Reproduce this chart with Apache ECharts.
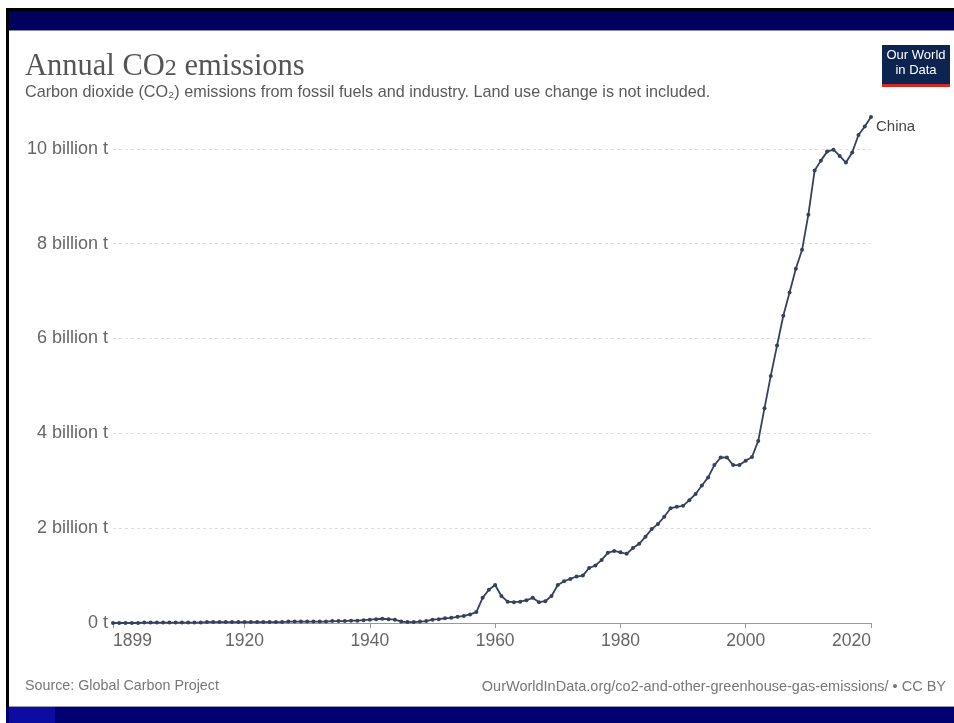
<!DOCTYPE html>
<html>
<head>
<meta charset="utf-8">
<script src="https://cdn.jsdelivr.net/npm/echarts@6/dist/echarts.min.js"></script>
<style>
html,body{margin:0;padding:0;background:#fff;}
#chart{width:954px;height:723px;}
</style>
</head>
<body>
<div id="chart"></div>
<script>
// Years and China annual CO2 emissions (billion tonnes)
const years = [];
for (let y = 1899; y <= 2020; y++) years.push(y);
const china = [
  // 1899-1909
  0.00, 0.00, 0.00, 0.00, 0.00, 0.01, 0.01, 0.01, 0.01, 0.01, 0.01,
  // 1910-1919
  0.01, 0.01, 0.01, 0.01, 0.02, 0.02, 0.02, 0.02, 0.02, 0.02,
  // 1920-1929
  0.02, 0.02, 0.02, 0.02, 0.02, 0.02, 0.02, 0.03, 0.03, 0.03,
  // 1930-1939
  0.03, 0.03, 0.03, 0.03, 0.04, 0.04, 0.04, 0.05, 0.05, 0.06,
  // 1940-1949
  0.07, 0.08, 0.09, 0.08, 0.07, 0.03, 0.02, 0.02, 0.03, 0.04,
  // 1950-1959
  0.07, 0.08, 0.10, 0.11, 0.13, 0.15, 0.18, 0.23, 0.53, 0.70,
  // 1960-1969
  0.80, 0.57, 0.45, 0.44, 0.45, 0.48, 0.53, 0.44, 0.46, 0.57,
  // 1970-1979
  0.80, 0.88, 0.93, 0.98, 1.00, 1.16, 1.21, 1.33, 1.48, 1.52,
  // 1980-1989
  1.49, 1.46, 1.58, 1.67, 1.82, 1.98, 2.09, 2.24, 2.42, 2.45,
  // 1990-1999
  2.47, 2.59, 2.72, 2.90, 3.07, 3.33, 3.49, 3.49, 3.33, 3.33,
  // 2000-2009
  3.42, 3.50, 3.84, 4.53, 5.21, 5.85, 6.48, 6.97, 7.47, 7.87,
  // 2010-2020
  8.61, 9.54, 9.75, 9.94, 9.98, 9.85, 9.71, 9.92, 10.29, 10.47, 10.67
];
const xTicks = [1899, 1920, 1940, 1960, 1980, 2000, 2020];
const yTicks = [0, 2, 4, 6, 8, 10];
const seriesName = 'China';
const titleMain = 'Annual CO';
const titleSub = 'Carbon dioxide (CO₂) emissions from fossil fuels and industry. Land use change is not included.';
const sourceText = 'Source: Global Carbon Project';
const urlText = 'OurWorldInData.org/co2-and-other-greenhouse-gas-emissions/ • CC BY';

const data = years.map((y, i) => [y, china[i]]);
const lineColor = '#37415e';
const sans = 'Liberation Sans, Arial, sans-serif';
const serif = 'Liberation Serif, Times New Roman, serif';

const chart = echarts.init(document.getElementById('chart'), null, {renderer: 'canvas'});
chart.setOption({
  backgroundColor: '#fff',
  animation: false,
  grid: {left: 113, right: 83, top: 117, bottom: 100},
  xAxis: {
    type: 'value',
    min: years[0],
    max: years[years.length - 1],
    axisLine: {show: true, lineStyle: {color: '#999', width: 1}},
    axisTick: {show: true, length: 5, lineStyle: {color: '#999'}, customValues: xTicks},
    axisLabel: {
      customValues: xTicks,
      color: '#666', fontSize: 17.5, fontFamily: sans,
      margin: 9, alignMinLabel: 'left', alignMaxLabel: 'right',
      formatter: v => String(v)
    },
    splitLine: {show: false}
  },
  yAxis: {
    type: 'value',
    min: 0,
    max: v => v.max,
    axisLine: {show: false},
    axisTick: {show: false},
    axisLabel: {
      customValues: yTicks,
      color: '#666', fontSize: 18, fontFamily: sans,
      margin: 5,
      formatter: v => v === 0 ? '0 t' : v + ' billion t'
    },
    splitLine: {show: true, showMaxLine: false, lineStyle: {color: '#ddd', type: [3, 3], width: 1}},
    interval: 2
  },
  series: [{
    name: seriesName,
    type: 'line',
    data: data,
    symbol: 'circle',
    symbolSize: 4,
    showSymbol: true,
    lineStyle: {color: lineColor, width: 1.8},
    itemStyle: {color: lineColor},
    endLabel: {
      show: true,
      formatter: seriesName,
      color: '#444',
      fontSize: 15,
      fontFamily: sans,
      distance: 5,
      offset: [0, 10]
    },
    z: 3
  }],
  graphic: [
    // top frame
    {type: 'rect', shape: {x: 6, y: 8, width: 948, height: 3}, style: {fill: '#000'}, silent: true},
    {type: 'rect', shape: {x: 9, y: 11, width: 945, height: 19}, style: {fill: '#00005f'}, silent: true},
    {type: 'rect', shape: {x: 9, y: 30, width: 945, height: 1}, style: {fill: '#8a8ab0'}, silent: true},
    // left border
    {type: 'rect', shape: {x: 6, y: 8, width: 3, height: 700}, style: {fill: '#000'}, silent: true},
    // bottom band
    {type: 'rect', shape: {x: 6, y: 707, width: 948, height: 16}, style: {fill: '#000070'}, silent: true},
    {type: 'rect', shape: {x: 9, y: 707, width: 46, height: 16}, style: {fill: '#0c0ca0'}, silent: true},
    {type: 'rect', shape: {x: 9, y: 706, width: 945, height: 1}, style: {fill: '#9a9ab8'}, silent: true},
    // title
    {type: 'text', left: 25, top: 51, style: {
      text: '{m|' + titleMain + '}{s|2}{m| emissions}',
      rich: {
        m: {fontFamily: serif, fontSize: 30.5, fill: '#555'},
        s: {fontFamily: serif, fontSize: 24, fill: '#555', padding: [5, 0, 0, 0]}
      }
    }},
    {type: 'text', left: 25, top: 85, style: {
      text: titleSub, fontFamily: sans, fontSize: 16.2, fill: '#5a5a5a'
    }},
    // logo
    {type: 'rect', shape: {x: 882, y: 45, width: 68, height: 39}, style: {fill: '#0d2350'}},
    {type: 'rect', shape: {x: 882, y: 84, width: 68, height: 3}, style: {fill: '#d32a22'}},
    {type: 'text', x: 916, y: 48, style: {
      text: 'Our World\nin Data', fill: '#fff', align: 'center', verticalAlign: 'top',
      fontFamily: sans, fontSize: 13, lineHeight: 15
    }},
    // footer
    {type: 'text', left: 25, top: 679, style: {
      text: sourceText, fontFamily: sans, fontSize: 14.3, fill: '#777'
    }},
    {type: 'text', right: 8, top: 679, style: {
      text: urlText, fontFamily: sans, fontSize: 14.5, fill: '#777'
    }}
  ]
});
</script>
</body>
</html>
